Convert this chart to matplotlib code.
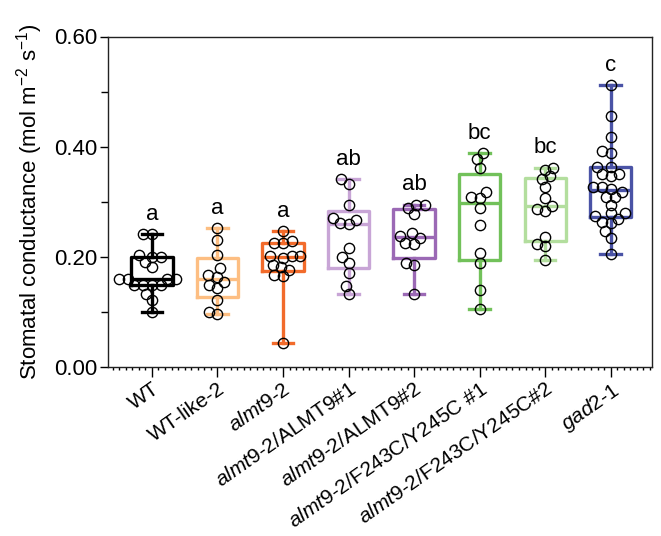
import numpy as np
import matplotlib
matplotlib.use("Agg")
import matplotlib.pyplot as plt
from matplotlib.ticker import MultipleLocator

plt.rcParams['font.family'] = ['Liberation Sans', 'DejaVu Sans']
plt.rcParams['mathtext.fontset'] = 'custom'
plt.rcParams['mathtext.rm'] = 'Liberation Sans'
plt.rcParams['mathtext.it'] = 'Liberation Sans:italic'

# ---------------- data ----------------
categories = ['WT', 'WT-like-2', r'$\it{almt9}$-$\it{2}$',
              r'$\it{almt9}$-$\it{2}$/ALMT9#1', r'$\it{almt9}$-$\it{2}$/ALMT9#2',
              r'$\it{almt9}$-$\it{2}$/F243C/Y245C #1', r'$\it{almt9}$-$\it{2}$/F243C/Y245C#2',
              r'$\it{gad2}$-$\it{1}$']

wt = [0.241, 0.241, 0.203, 0.200, 0.200, 0.182, 0.191, 0.160, 0.160, 0.160, 0.160,
      0.149, 0.149, 0.149, 0.149, 0.132, 0.121, 0.100]
wt_like2 = [0.252, 0.230, 0.203, 0.179, 0.167, 0.164, 0.155, 0.149, 0.144, 0.121, 0.100, 0.096]
almt9_2 = [0.247, 0.229, 0.226, 0.225, 0.202, 0.201, 0.201, 0.198, 0.186, 0.181, 0.176,
           0.167, 0.165, 0.044]
almt9_comp1 = [0.341, 0.332, 0.295, 0.270, 0.266, 0.261, 0.259, 0.216, 0.200, 0.189,
               0.171, 0.147, 0.132]
almt9_comp2 = [0.295, 0.295, 0.289, 0.278, 0.243, 0.238, 0.235, 0.226, 0.223, 0.189,
               0.185, 0.132]
f243c_1 = [0.388, 0.377, 0.362, 0.317, 0.308, 0.307, 0.288, 0.258, 0.207, 0.189, 0.139, 0.106]
f243c_2 = [0.362, 0.358, 0.346, 0.341, 0.326, 0.307, 0.292, 0.287, 0.283, 0.236, 0.223,
           0.219, 0.194]
gad2_1 = [0.512, 0.456, 0.417, 0.393, 0.389, 0.363, 0.363, 0.350, 0.346, 0.350, 0.324,
          0.326, 0.326, 0.318, 0.309, 0.308, 0.295, 0.279, 0.279, 0.274, 0.269, 0.264,
          0.261, 0.247, 0.235, 0.206]

groups = [wt, wt_like2, almt9_2, almt9_comp1, almt9_comp2, f243c_1, f243c_2, gad2_1]
letters = ['a', 'a', 'a', 'ab', 'ab', 'bc', 'bc', 'c']
colors = ['#000000', '#FDBE82', '#F26B2B', '#C8A5D6', '#9B69B5', '#72C15A', '#B3DE9E', '#4A53A6']

y_ticks = [0.0, 0.2, 0.4, 0.6]
y_ticklabels = ['0.00', '0.20', '0.40', '0.60']

# ---------------- figure ----------------
W, H = 661, 536
fig = plt.figure(figsize=(W / 100, H / 100), dpi=100)
ax = fig.add_axes([108 / W, 1 - 367 / H, (652 - 108) / W, (367 - 36.5) / H])

xmin, xmax = -0.67, 7.63
ymin, ymax = 0.0, 0.6
ax.set_xlim(xmin, xmax)
ax.set_ylim(ymin, ymax)

# pixel scales for swarm layout
px_per_x = (652 - 108) / (xmax - xmin)
px_per_y = (367 - 36.5) / (ymax - ymin)


def swarm_offsets(vals, d):
    """Deterministic beeswarm: returns x offsets (pixels)."""
    yv = np.asarray(vals) * px_per_y
    order = np.argsort(yv)
    placed = []
    offs = np.zeros(len(yv))
    for i in order:
        y = yv[i]
        intervals = []
        for (xo, yo) in placed:
            dy = abs(y - yo)
            if dy < d:
                h = np.sqrt(d * d - dy * dy)
                intervals.append((xo - h, xo + h))
        cands = [0.0] + [a for a, b in intervals] + [b for a, b in intervals]
        cands = sorted(cands, key=lambda c: (abs(c), c))
        for c in cands:
            if all(not (a + 1e-6 < c < b - 1e-6) for a, b in intervals):
                offs[i] = c
                break
        placed.append((offs[i], y))
    return offs


stats = []
for vals in groups:
    v = np.asarray(vals)
    q1, med, q3 = np.percentile(v, [25, 50, 75], method='weibull')
    stats.append(dict(med=med, q1=q1, q3=q3, whislo=v.min(), whishi=v.max(), fliers=[]))

pos = np.arange(len(groups))
for i, (st, c) in enumerate(zip(stats, colors)):
    lw = 2.4
    ax.bxp([st], positions=[i], widths=0.63, showfliers=False,
           boxprops=dict(color=c, linewidth=lw),
           medianprops=dict(color=c, linewidth=lw),
           whiskerprops=dict(color=c, linewidth=lw),
           capprops=dict(color=c, linewidth=lw),
           manage_ticks=False, zorder=2)

for i, vals in enumerate(groups):
    offs = swarm_offsets(vals, 8.8) / px_per_x
    ax.plot(i + offs, vals, 'o', ms=7.4, mfc='none', mec='black', mew=1.0,
            zorder=3, linestyle='none')
    ax.text(i, max(vals) + 0.026, letters[i], ha='center', va='baseline',
            fontsize=16, color='black')

# axes styling
for s in ax.spines.values():
    s.set_linewidth(1.0)
    s.set_color('#222222')

ax.set_yticks(y_ticks)
ax.set_yticklabels(y_ticklabels, fontsize=16)
ax.yaxis.set_minor_locator(MultipleLocator(0.1))
ax.tick_params(axis='y', which='major', length=6, width=1.0, direction='out', pad=2)
ax.tick_params(axis='y', which='minor', length=5, width=1.0, direction='out')

ax.set_xticks(pos)
ax.set_xticklabels(categories, fontsize=15, rotation=35, ha='right',
                   rotation_mode='anchor')
ax.xaxis.set_minor_locator(MultipleLocator(0.1))
ax.tick_params(axis='x', which='major', length=7, width=1.0, direction='out', pad=2)
ax.tick_params(axis='x', which='minor', length=2.5, width=1.0, direction='out')

ax.set_ylabel(r'Stomatal conductance (mol m$^{-2}$ s$^{-1}$)', fontsize=16, labelpad=6)

fig.savefig('out.png', dpi=100)
